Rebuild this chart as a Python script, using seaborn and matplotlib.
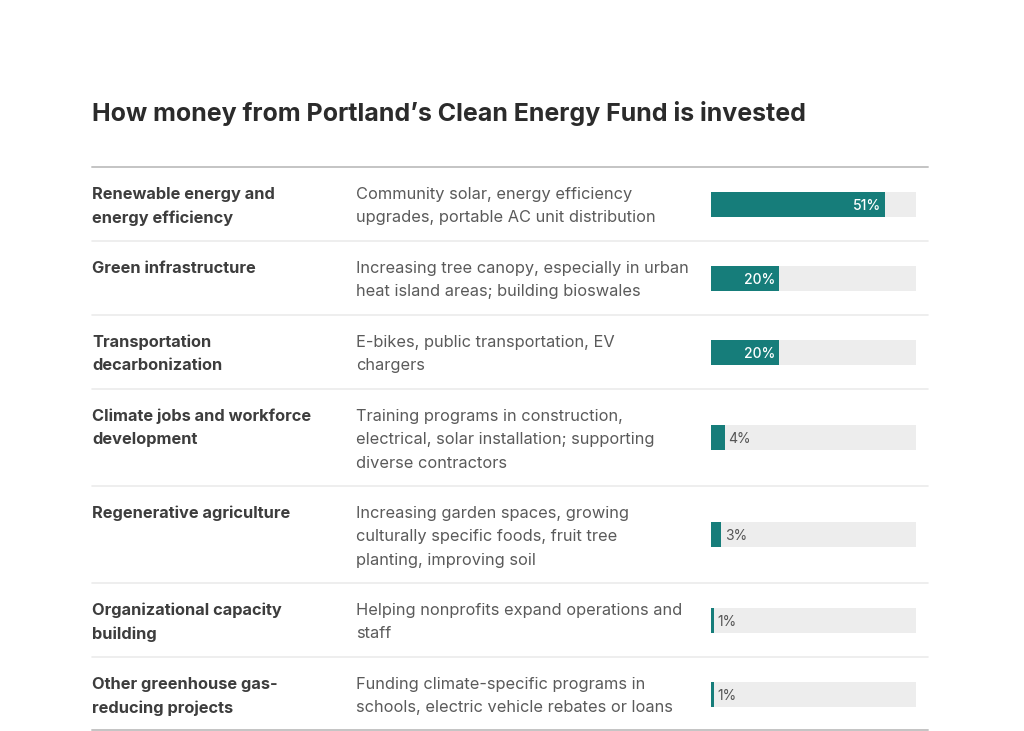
import matplotlib
matplotlib.use("Agg")
import matplotlib.pyplot as plt
import seaborn as sns

# -----------------------------------------
# Data
# -----------------------------------------
categories = [
    "Renewable energy and\nenergy efficiency",
    "Green infrastructure",
    "Transportation\ndecarbonization",
    "Climate jobs and workforce\ndevelopment",
    "Regenerative agriculture",
    "Organizational capacity\nbuilding",
    "Other greenhouse gas-\nreducing projects",
]
descriptions = [
    "Community solar, energy efficiency\nupgrades, portable AC unit distribution",
    "Increasing tree canopy, especially in urban\nheat island areas; building bioswales",
    "E-bikes, public transportation, EV\nchargers",
    "Training programs in construction,\nelectrical, solar installation; supporting\ndiverse contractors",
    "Increasing garden spaces, growing\nculturally specific foods, fruit tree\nplanting, improving soil",
    "Helping nonprofits expand operations and\nstaff",
    "Funding climate-specific programs in\nschools, electric vehicle rebates or loans",
]
shares = [51, 20, 20, 4, 3, 1, 1]
title = "How money from Portland\u2019s Clean Energy Fund is invested"

# -----------------------------------------
# Style
# -----------------------------------------
sns.set_theme(style="white")
plt.rcParams["font.family"] = ["Inter", "DejaVu Sans"]

teal = "#167d7a"
track = "#ededed"

W, H = 1024, 731
fig = plt.figure(figsize=(W / 100, H / 100), dpi=100)
fig.patch.set_facecolor("white")

# background axes in pixel units for text and rules
bg = fig.add_axes([0, 0, 1, 1])
bg.set_xlim(0, W)
bg.set_ylim(H, 0)
bg.axis("off")

bg.text(92, 111, title, fontsize=18, fontweight="bold", color="#2b2b2b",
        va="center_baseline", ha="left")

# row layout: row height depends on number of text lines
top = 167
row_tops, centers = [], []
y = top
for cat, desc in zip(categories, descriptions):
    n = max(cat.count("\n"), desc.count("\n")) + 1
    h = 74 if n <= 2 else 97
    row_tops.append(y)
    centers.append(y + h / 2)
    y += h
bottom = y

bg.plot([92, 928], [top, top], color="#c4c4c4", lw=1.4)
for i, (cat, desc) in enumerate(zip(categories, descriptions)):
    t = row_tops[i]
    for k, line in enumerate(cat.split("\n")):
        bg.text(92, t + 26 + 23.3 * k, line, fontsize=11.8, fontweight="bold",
                color="#3d3d3d", va="center_baseline", ha="left")
    for k, line in enumerate(desc.split("\n")):
        bg.text(356, t + 26 + 23.3 * k, line, fontsize=11.8, color="#5a5a5a",
                va="center_baseline", ha="left")
    if i < len(categories) - 1:
        yy = row_tops[i + 1]
        bg.plot([92, 928], [yy, yy], color="#ebebeb", lw=1.2)
bg.plot([92, 928], [bottom - 1, bottom - 1], color="#c4c4c4", lw=1.4)

# -----------------------------------------
# Bars
# -----------------------------------------
ax = fig.add_axes([711 / W, (H - bottom) / H, 205 / W, (bottom - top) / H])
ax.patch.set_alpha(0)
bar_w = 25 / 74
sns.barplot(x=[60] * len(shares), y=centers, orient="h", native_scale=True,
            width=bar_w, color=track, saturation=1, linewidth=0, ax=ax)
sns.barplot(x=shares, y=centers, orient="h", native_scale=True,
            width=bar_w, color=teal, saturation=1, linewidth=0, ax=ax)
ax.set_xlim(0, 60)
ax.set_ylim(bottom, top)
ax.axis("off")

for v, c in zip(shares, centers):
    if v >= 10:
        ax.text(v - 1.1, c, f"{v}%", color="white", fontsize=10,
                fontweight="medium", va="center_baseline", ha="right")
    else:
        ax.text(v + 1.0, c, f"{v}%", color="#555555", fontsize=10,
                va="center_baseline", ha="left")

fig.savefig("out.png", dpi=100, facecolor="white")
